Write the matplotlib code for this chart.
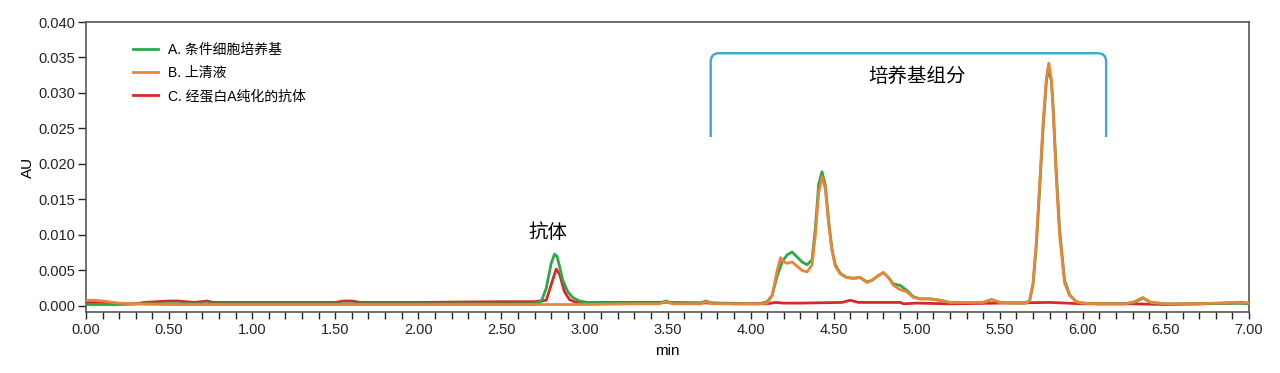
import matplotlib
matplotlib.use("Agg")
import matplotlib.pyplot as plt
from matplotlib.path import Path
from matplotlib.patches import PathPatch
from matplotlib.ticker import MultipleLocator, FuncFormatter

plt.rcParams['font.family'] = ['Liberation Sans', 'Noto Sans CJK SC', 'DejaVu Sans']

# ---------------- data ----------------
labels = ["A. 条件细胞培养基", "B. 上清液", "C. 经蛋白A纯化的抗体"]
colors = ["#2ca84a", "#e8853a", "#d62a2a"]

t_A = [0.00, 0.10, 0.20, 0.30, 0.50, 1.00, 1.50, 2.00, 2.50, 2.70, 2.74, 2.77, 2.80, 2.82,
       2.835, 2.85, 2.87, 2.90, 2.93, 2.97, 3.02, 3.10, 3.30, 3.45, 3.49, 3.53, 3.70, 3.73,
       3.77, 3.90, 4.05, 4.10, 4.13, 4.16, 4.19, 4.22, 4.25, 4.28, 4.31, 4.34, 4.37, 4.39,
       4.41, 4.43, 4.45, 4.47, 4.49, 4.51, 4.54, 4.58, 4.62, 4.66, 4.70, 4.73, 4.77, 4.80,
       4.83, 4.86, 4.90, 4.94, 4.98, 5.02, 5.08, 5.14, 5.20, 5.30, 5.40, 5.45, 5.50, 5.60,
       5.66, 5.68, 5.70, 5.72, 5.74, 5.76, 5.78, 5.79, 5.81, 5.82, 5.84, 5.86, 5.89, 5.92,
       5.96, 6.00, 6.10, 6.25, 6.31, 6.36, 6.41, 6.50, 6.70, 6.90, 7.00]
au_A = [0.0002, 0.0002, 0.0002, 0.0003, 0.0003, 0.0003, 0.0003, 0.0003, 0.0003, 0.0003,
        0.0006, 0.0025, 0.0060, 0.0073, 0.0070, 0.0056, 0.0036, 0.0020, 0.0012, 0.0007,
        0.0005, 0.0004, 0.0004, 0.0004, 0.0007, 0.0004, 0.0004, 0.0007, 0.0004, 0.0003,
        0.0003, 0.0006, 0.0015, 0.0042, 0.0062, 0.0072, 0.0076, 0.0069, 0.0062, 0.0058,
        0.0065, 0.0110, 0.0172, 0.0189, 0.0170, 0.0120, 0.0080, 0.0058, 0.0046, 0.0040,
        0.0039, 0.0040, 0.0034, 0.0036, 0.0043, 0.0047, 0.0040, 0.0031, 0.0029, 0.0022,
        0.0013, 0.0010, 0.0010, 0.0008, 0.0005, 0.0005, 0.0005, 0.0009, 0.0005, 0.0004,
        0.0004, 0.0008, 0.0030, 0.0085, 0.0165, 0.0248, 0.0315, 0.0333, 0.0318, 0.0285,
        0.0190, 0.0108, 0.0036, 0.0016, 0.0006, 0.0004, 0.0003, 0.0003, 0.0005, 0.0011,
        0.0005, 0.0003, 0.0003, 0.0004, 0.0003]

t_B = [0.00, 0.05, 0.10, 0.20, 0.30, 0.50, 1.00, 1.50, 2.00, 2.50, 3.00, 3.30, 3.45, 3.49,
       3.53, 3.70, 3.73, 3.77, 3.90, 4.05, 4.10, 4.13, 4.16, 4.18, 4.20, 4.22, 4.25, 4.28,
       4.31, 4.34, 4.37, 4.39, 4.41, 4.43, 4.45, 4.47, 4.49, 4.51, 4.54, 4.58, 4.62, 4.66,
       4.70, 4.73, 4.77, 4.80, 4.83, 4.86, 4.90, 4.94, 4.98, 5.02, 5.08, 5.14, 5.20, 5.30,
       5.40, 5.45, 5.50, 5.60, 5.66, 5.68, 5.70, 5.72, 5.74, 5.76, 5.78, 5.795, 5.81, 5.82,
       5.84, 5.86, 5.89, 5.92, 5.96, 6.00, 6.10, 6.25, 6.31, 6.36, 6.41, 6.50, 6.70, 6.90,
       7.00]
au_B = [0.0008, 0.0008, 0.0007, 0.0004, 0.0003, 0.0002, 0.0002, 0.0002, 0.0002, 0.0002,
        0.0002, 0.0003, 0.0003, 0.0006, 0.0003, 0.0003, 0.0006, 0.0003, 0.0003, 0.0003,
        0.0004, 0.0015, 0.0050, 0.0068, 0.0062, 0.0060, 0.0062, 0.0056, 0.0050, 0.0048,
        0.0058, 0.0100, 0.0160, 0.0182, 0.0165, 0.0115, 0.0078, 0.0056, 0.0045, 0.0040,
        0.0039, 0.0040, 0.0033, 0.0036, 0.0043, 0.0047, 0.0040, 0.0029, 0.0023, 0.0020,
        0.0012, 0.0010, 0.0010, 0.0008, 0.0005, 0.0005, 0.0005, 0.0009, 0.0005, 0.0004,
        0.0004, 0.0008, 0.0032, 0.0090, 0.0173, 0.0255, 0.0320, 0.0342, 0.0320, 0.0280,
        0.0180, 0.0100, 0.0032, 0.0015, 0.0006, 0.0004, 0.0003, 0.0003, 0.0006, 0.0012,
        0.0005, 0.0003, 0.0003, 0.0005, 0.0004]

t_C = [0.00, 0.10, 0.20, 0.30, 0.35, 0.50, 0.55, 0.60, 0.65, 0.73, 0.76, 1.00, 1.50, 1.55,
       1.60, 1.65, 2.00, 2.50, 2.70, 2.77, 2.80, 2.83, 2.85, 2.88, 2.91, 2.95, 3.20, 3.50,
       3.80, 4.10, 4.15, 4.20, 4.30, 4.55, 4.60, 4.65, 4.90, 4.92, 5.00, 5.20, 5.50, 5.80,
       5.90, 6.00, 6.30, 6.50, 6.90, 6.95, 7.00]
au_C = [0.0005, 0.0005, 0.0003, 0.0003, 0.0005, 0.0007, 0.0007, 0.0006, 0.0005, 0.0007,
        0.0005, 0.0005, 0.0005, 0.0007, 0.0007, 0.0005, 0.0005, 0.0006, 0.0006, 0.0008,
        0.0030, 0.0052, 0.0045, 0.0020, 0.0009, 0.0005, 0.0005, 0.0005, 0.0004, 0.0003,
        0.0005, 0.0004, 0.0004, 0.0005, 0.0008, 0.0005, 0.0005, 0.0003, 0.0004, 0.0003,
        0.0004, 0.0005, 0.0004, 0.0003, 0.0003, 0.0002, 0.0004, 0.0005, 0.0004]

bracket_x = [3.76, 6.14]
bracket_y = [0.0238, 0.0356]
bracket_label = "培养基组分"
bracket_label_pos = (5.0, 0.0323)
peak_label = "抗体"
peak_label_pos = (2.78, 0.0104)

# ---------------- figure ----------------
fig = plt.figure(figsize=(12.8, 3.73), dpi=100)
ax = fig.add_axes([86/1280, 1-312/373, (1249-86)/1280, (312-22)/373])

ax.plot(t_A, au_A, color=colors[0], lw=2.0, label=labels[0], zorder=3)
ax.plot(t_B, au_B, color=colors[1], lw=2.0, label=labels[1], zorder=4)
ax.plot(t_C, au_C, color=colors[2], lw=2.0, label=labels[2], zorder=2)

ax.set_xlim(0, 7.0)
ax.set_ylim(-0.00085, 0.040)

ax.xaxis.set_major_locator(MultipleLocator(0.5))
ax.xaxis.set_minor_locator(MultipleLocator(0.1))
ax.xaxis.set_major_formatter(FuncFormatter(lambda v, p: f"{v:.2f}"))
ax.yaxis.set_major_locator(MultipleLocator(0.005))
ax.yaxis.set_major_formatter(FuncFormatter(lambda v, p: f"{v:.3f}"))
ax.tick_params(axis='x', which='both', direction='out', length=5, width=1, labelsize=10.5,
               colors='#222222', pad=3)
ax.tick_params(axis='y', which='major', direction='out', length=6, width=1, labelsize=10.5,
               colors='#222222', pad=2)
for s in ax.spines.values():
    s.set_color('#555555')
    s.set_linewidth(1.2)

ax.set_xlabel("min", fontsize=11, labelpad=5)
ax.set_ylabel("AU", fontsize=11, labelpad=2)

# bracket
x0, x1 = bracket_x
yb, yt = bracket_y
r = 0.05
ry = 0.0012
verts = [(x0, yb), (x0, yt - ry), (x0, yt), (x0 + r, yt), (x1 - r, yt), (x1, yt),
         (x1, yt - ry), (x1, yb)]
codes = [Path.MOVETO, Path.LINETO, Path.CURVE3, Path.CURVE3, Path.LINETO, Path.CURVE3,
         Path.CURVE3, Path.LINETO]
ax.add_patch(PathPatch(Path(verts, codes), fill=False, edgecolor='#3aa8d2', lw=1.7, zorder=5))

ax.text(*bracket_label_pos, bracket_label, fontsize=14, ha='center', va='center',
        family=['Noto Sans CJK SC'])
ax.text(*peak_label_pos, peak_label, fontsize=14, ha='center', va='center',
        family=['Noto Sans CJK SC'])

leg = ax.legend(loc='upper left', bbox_to_anchor=(133/1280, 1-43/373),
                bbox_transform=fig.transFigure, frameon=False, fontsize=10,
                handlelength=1.8, handletextpad=0.75, labelspacing=0.65,
                borderpad=0, borderaxespad=0)

fig.savefig("out.png", dpi=100)
